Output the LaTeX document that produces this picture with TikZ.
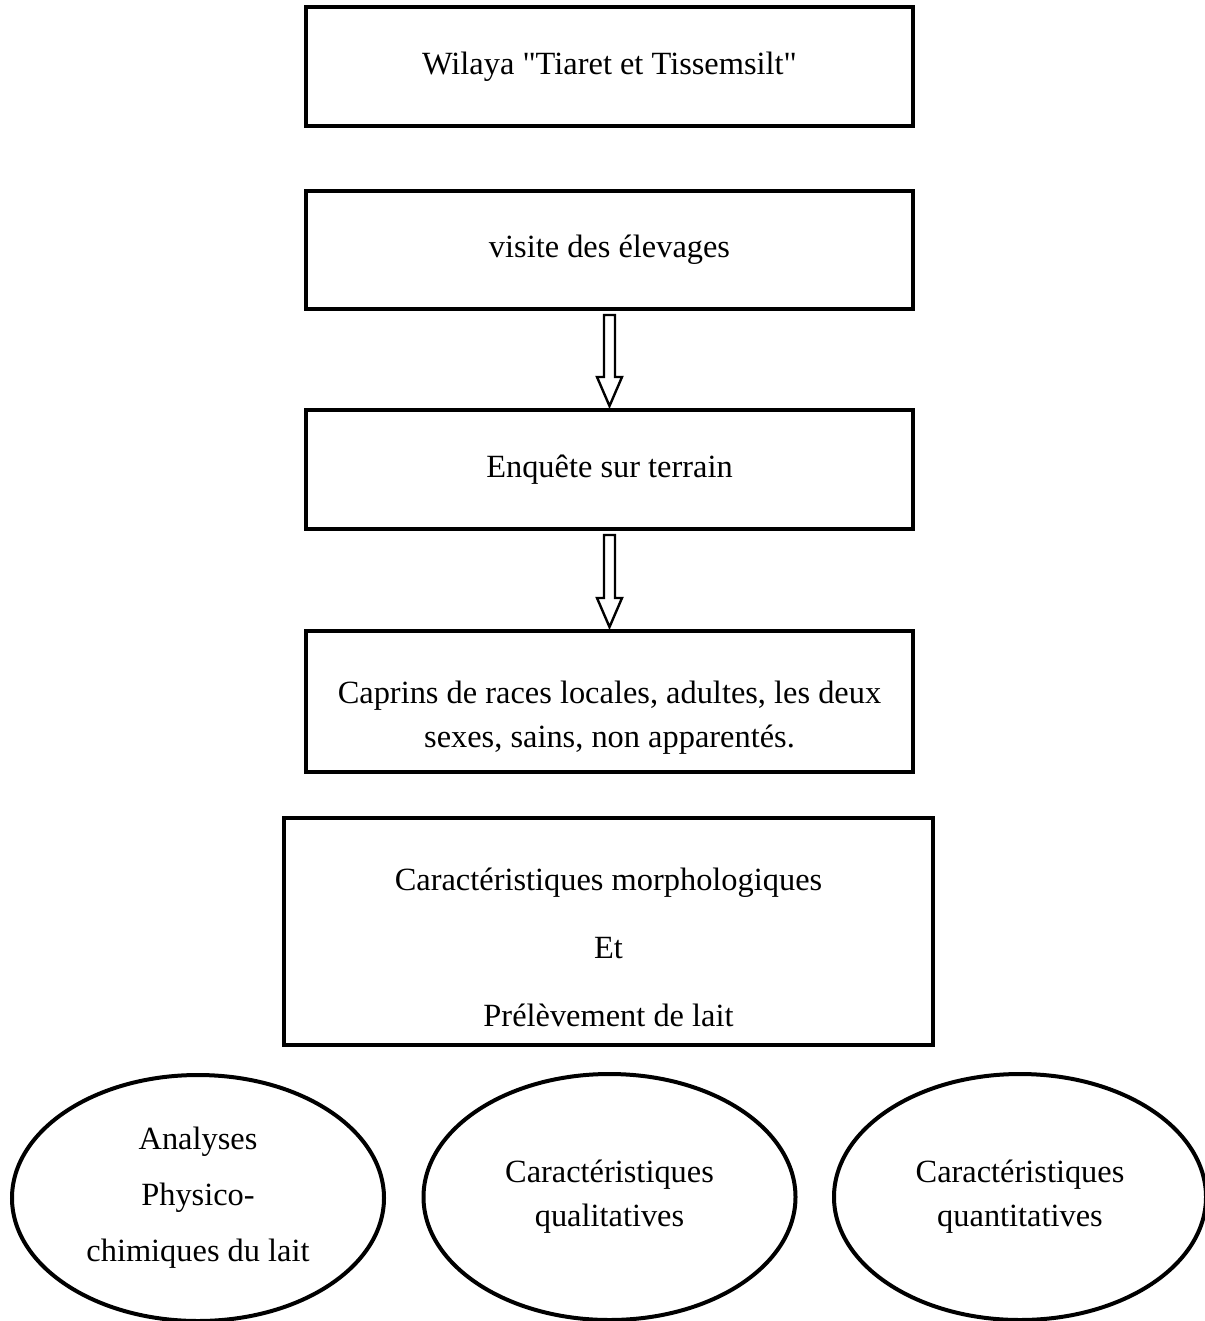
\documentclass[tikz,border=0pt]{standalone}
\usepackage{fontspec}
\setmainfont{Liberation Serif}[Ligatures=TeXOff]
\usetikzlibrary{calc,shapes.geometric}
\tikzset{
  etape/.style={draw, line width=2pt, minimum width=303.5pt,
                minimum height=59.5pt, align=center, inner sep=0pt},
  texte/.style={align=center, inner sep=0pt},
  bulle/.style={draw, ellipse, line width=2pt, minimum width=186pt,
                minimum height=123pt, align=center, inner sep=0pt},
  fleche/.style={draw, line width=1.2pt, fill=white, line join=miter},
}

\begin{document}
\begin{tikzpicture}[x=0.5pt, y=-0.5pt, font={\fontsize{16.2}{22}\selectfont}]

\useasboundingbox (0,0) rectangle (1204,1321);

\node[etape] (wilaya) at (609.5,66.5) {Wilaya "Tiaret et Tissemsilt"};
\node[etape, minimum height=59pt] (visite) at (609.5,250)
  {visite des élevages};
\node[etape] (enquete) at (609.5,469.5) {Enquête sur terrain};

\node[etape, minimum height=70.5pt] (caprins) at (609.5,701.5) {};
\node[texte] (caprins-txt) at ($(caprins.center)+(0,16)$)
  {Caprins de races locales, adultes, les deux\\
   sexes, sains, non apparentés.};

\node[etape, minimum width=324.5pt, minimum height=113.5pt] (caract)
  at (608.5,931.5) {};
\node[texte] (caract-txt) at ($(caract.center)+(0,16)$)
  {Caractéristiques morphologiques\\[12pt]
   Et\\[12pt]
   Prélèvement de lait};

% fleches creuses entre les etapes
\foreach \haut/\bas in {visite/enquete, enquete/caprins}
  \draw[fleche] ($(\haut.south)+(-5.5,4)$) -- ($(\haut.south)+(5.5,4)$)
    -- ($(\bas.north)+(5.5,-31)$) -- ($(\bas.north)+(12.5,-31)$)
    -- ($(\bas.north)+(0,-2)$) -- ($(\bas.north)+(-12.5,-31)$)
    -- ($(\bas.north)+(-5.5,-31)$) -- cycle;

\node[bulle] (analyses) at (198,1198)
  {Analyses\\[6pt] Physico-\\[6pt] chimiques du lait};
\node[bulle] (qualit) at (609.5,1197) {Caractéristiques\\ qualitatives};
\node[bulle] (quantit) at (1020,1197) {Caractéristiques\\ quantitatives};

\end{tikzpicture}
\end{document}
